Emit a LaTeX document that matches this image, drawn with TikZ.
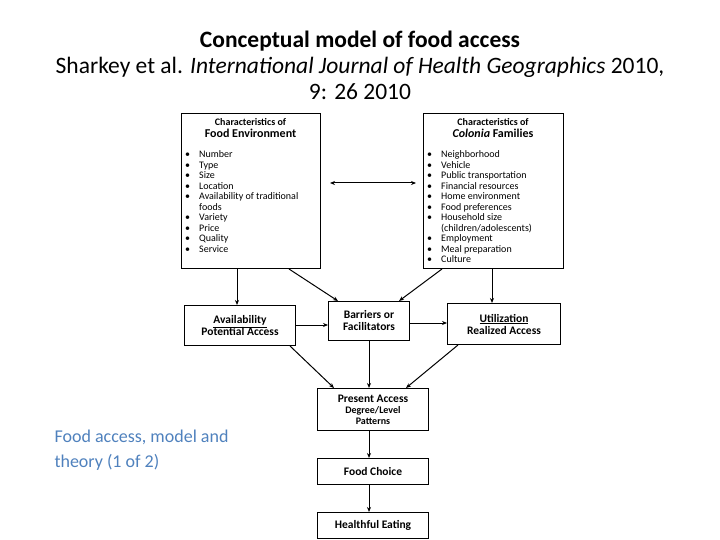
\documentclass[tikz,border=0pt]{standalone}
\usepackage{fontspec}
\setmainfont{Carlito}
\usetikzlibrary{arrows.meta}
\definecolor{slideblue}{RGB}{79,129,189}
\begin{document}
\begin{tikzpicture}[x=1pt,y=-1pt,
  box/.style={draw,line width=1pt,align=center,inner sep=1pt,font=\fontsize{11.5}{12}\selectfont\bfseries},
  arr/.style={-{Stealth[length=5pt,width=4pt]},line width=1pt}]
\useasboundingbox (0,0) rectangle (720,540);
\node[font=\fontsize{23.5}{26}\selectfont,align=center] (title) at (360,65)
 {\textbf{Conceptual model of food access}\\Sharkey et al. \textit{International Journal of Health Geographics} 2010,\\9: 26 2010};
\node[font=\fontsize{18}{25}\selectfont,text=slideblue,align=left,anchor=north west] (sub) at (51,426)
 {Food access, model and\\theory (1 of 2)};
\node[box,minimum width=139,minimum height=155,anchor=north west] (fe) at (181,113) {};
\node[anchor=north,align=center,font=\fontsize{10}{12.5}\selectfont\bfseries,inner sep=0] (feh) at (250.5,118) {Characteristics of\\{\fontsize{12}{13}\selectfont Food Environment}};
\node[anchor=north west,align=left,font=\fontsize{10}{10.5}\selectfont,inner sep=0] (fel) at (185,150)
 {\begin{tabular}{@{}l@{\hspace{9pt}}l@{}}
 •&Number\\•&Type\\•&Size\\•&Location\\•&Availability of traditional\\&foods\\•&Variety\\•&Price\\•&Quality\\•&Service
 \end{tabular}};
\node[box,minimum width=140,minimum height=155,anchor=north west] (cf) at (423,113) {};
\node[anchor=north,align=center,font=\fontsize{10}{12.5}\selectfont\bfseries,inner sep=0] (cfh) at (493,118) {Characteristics of\\{\fontsize{12}{13}\selectfont\itshape Colonia\upshape\ Families}};
\node[anchor=north west,align=left,font=\fontsize{10}{10.5}\selectfont,inner sep=0] (cfl) at (427,150)
 {\begin{tabular}{@{}l@{\hspace{9pt}}l@{}}
 •&Neighborhood\\•&Vehicle\\•&Public transportation\\•&Financial resources\\•&Home environment\\•&Food preferences\\•&Household size\\&(children/adolescents)\\•&Employment\\•&Meal preparation\\•&Culture
 \end{tabular}};
\node[box,minimum width=111,minimum height=40,anchor=north west] (av) at (184,305) {\underline{Availability}\\Potential Access};
\node[box,minimum width=81,minimum height=39,anchor=north west] (ba) at (328,301) {Barriers or\\Facilitators};
\node[box,minimum width=113,minimum height=41,anchor=north west] (ut) at (447,303) {\underline{Utilization}\\Realized Access};
\node[box,minimum width=111,minimum height=42,anchor=north west,font=\fontsize{10}{11}\selectfont\bfseries] (pa) at (317,388) {{\fontsize{11.5}{12}\selectfont Present Access}\\Degree/Level\\Patterns};
\node[box,minimum width=111,minimum height=26,anchor=north west] (fc) at (317,458) {Food Choice};
\node[box,minimum width=111,minimum height=26,anchor=north west] (he) at (317,512) {Healthful Eating};
\coordinate (m1) at (330,183); \coordinate (m2) at (416,183);
\draw[arr,{Stealth[length=5pt,width=4pt]}-{Stealth[length=5pt,width=4pt]}] (m1) -- (m2);
\draw[arr] (fe.south -| 237,0) -- (av.north -| 237,0);
\draw[arr] (fe.south -| 289,0) -- (ba.north -| 338,0);
\draw[arr] (cf.south -| 442,0) -- (ba.north -| 399,0);
\draw[arr] (cf.south -| 492,0) -- (ut.north -| 492,0);
\draw[arr] (av.east |- 0,325) -- (ba.west |- 0,325);
\draw[arr] (ba.east |- 0,323) -- (ut.west |- 0,323);
\draw[arr] (av.south -| 290,0) -- (pa.north -| 334,0);
\draw[arr] (ba.south) -- (pa.north -| ba.south);
\draw[arr] (ut.south -| 458,0) -- (pa.north -| 406,0);
\draw[arr] (pa.south -| 369,0) -- (fc.north -| 369,0);
\draw[arr] (fc.south -| 369,0) -- (he.north -| 369,0);
\end{tikzpicture}
\end{document}
